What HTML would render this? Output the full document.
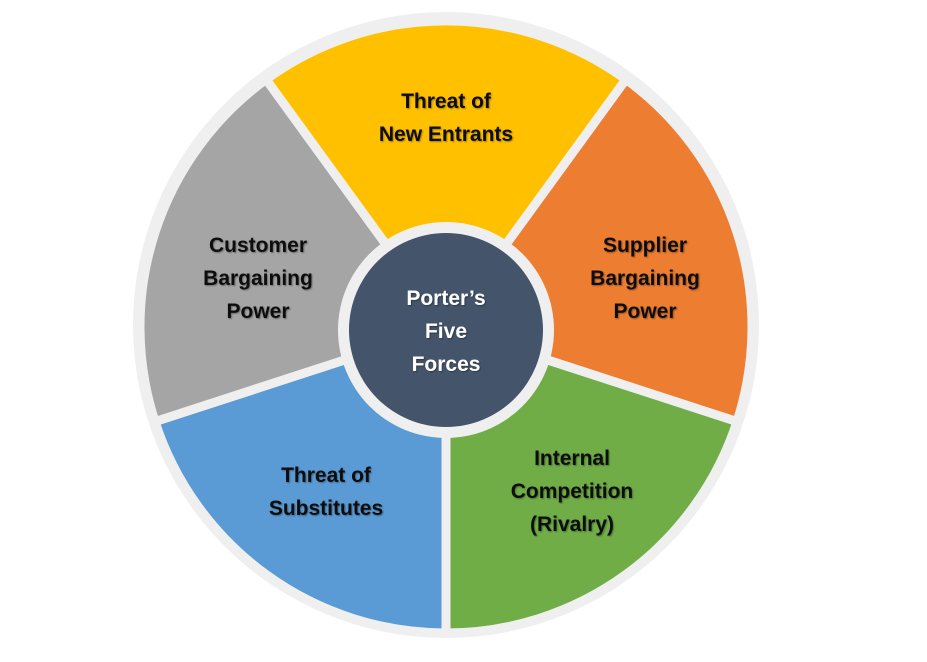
<!DOCTYPE html>
<html><head><meta charset="utf-8"><style>
html,body{margin:0;padding:0;background:#fff;}
svg{display:block;}
text{font-family:"Liberation Sans",sans-serif;font-weight:bold;font-size:21px;text-anchor:middle;}
</style></head><body>
<svg width="927" height="662" viewBox="0 0 927 662">
<defs><filter id="sh" x="-10%" y="-10%" width="120%" height="120%"><feDropShadow dx="1" dy="1" stdDeviation="0.8" flood-color="#000" flood-opacity="0.35"/></filter></defs>
<circle cx="446" cy="325" r="313" fill="#efefef"/>
<g stroke="#efefef" stroke-width="9" stroke-linejoin="miter">
<path d="M446 327 L446 633 A306 306 0 0 1 155 421.6 Z" fill="#5b9bd5"/>
<path d="M446 327 L155 421.6 A306 306 0 0 1 266.1 79.4 Z" fill="#a5a5a5"/>
<path d="M446 327 L266.1 79.4 A306 306 0 0 1 625.9 79.4 Z" fill="#ffc000"/>
<path d="M446 327 L625.9 79.4 A306 306 0 0 1 737 421.6 Z" fill="#ed7d31"/>
<path d="M446 327 L737 421.6 A306 306 0 0 1 446 633 Z" fill="#70ad47"/>
</g>
<circle cx="446" cy="330" r="108" fill="#efefef"/>
<circle cx="446" cy="330" r="97" fill="#44546a"/>
<g filter="url(#sh)" fill="#111">
<text x="446" y="108">Threat of</text>
<text x="446" y="141">New Entrants</text>
<text x="258" y="252">Customer</text>
<text x="258" y="285">Bargaining</text>
<text x="258" y="318">Power</text>
<text x="645" y="252">Supplier</text>
<text x="645" y="285">Bargaining</text>
<text x="645" y="318">Power</text>
<text x="326" y="482">Threat of</text>
<text x="326" y="515">Substitutes</text>
<text x="572" y="465">Internal</text>
<text x="572" y="498">Competition</text>
<text x="572" y="531">(Rivalry)</text>
</g>
<g filter="url(#sh)" fill="#fff">
<text x="446" y="305">Porter’s</text>
<text x="446" y="338">Five</text>
<text x="446" y="371">Forces</text>
</g>
</svg>
</body></html>
